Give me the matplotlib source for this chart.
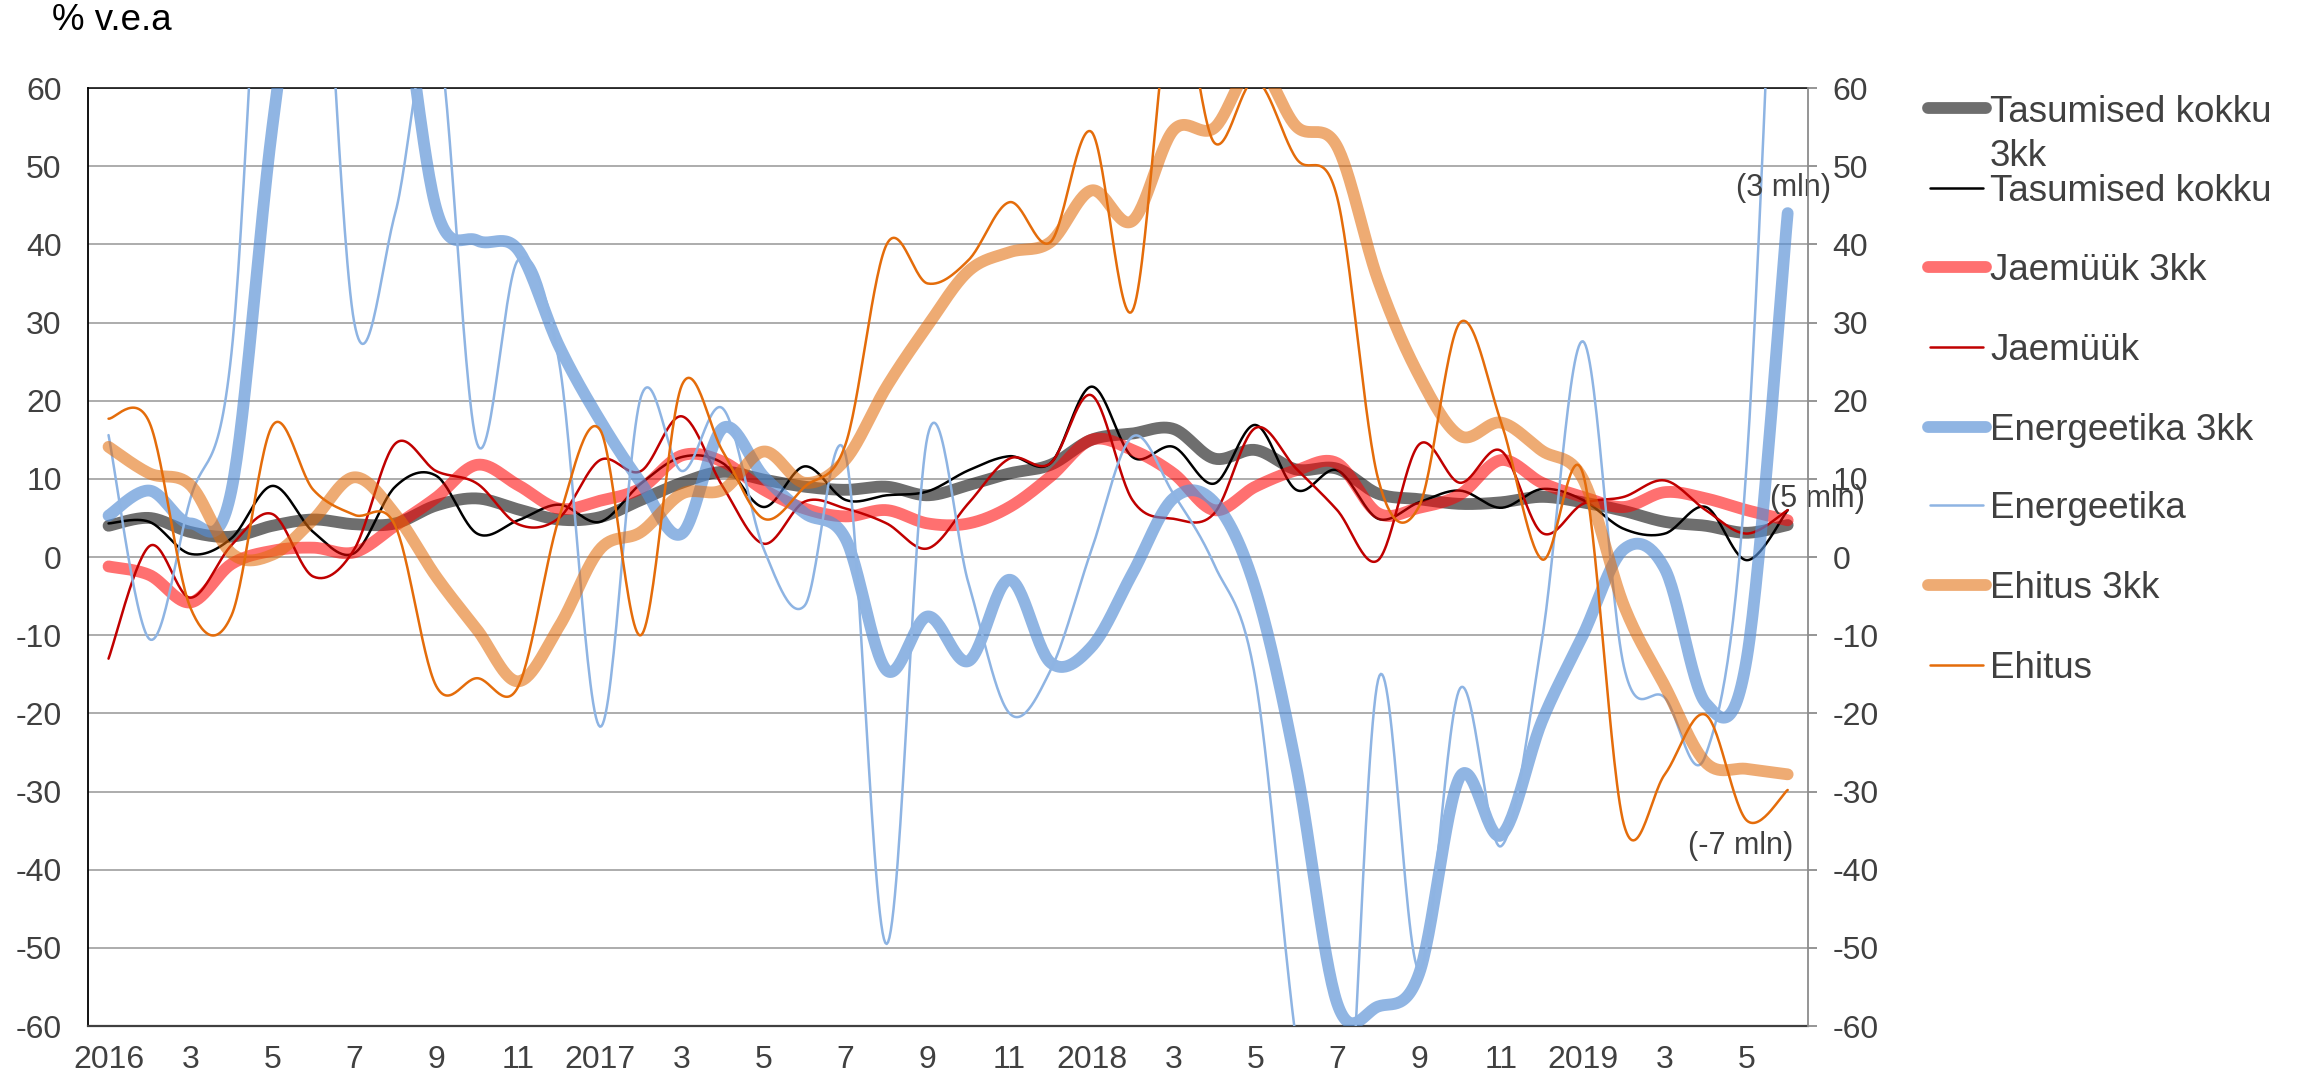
import numpy as np
import matplotlib
matplotlib.use('Agg')
import matplotlib.pyplot as plt
from matplotlib.lines import Line2D

plt.rcParams['font.family'] = ['Liberation Sans', 'DejaVu Sans']
plt.rcParams['axes.unicode_minus'] = False

# monthly data, Jan 2016 .. Jun 2019 (% v.e.a)
x_labels = ['2016', '3', '5', '7', '9', '11', '2017', '3', '5', '7', '9', '11',
            '2018', '3', '5', '7', '9', '11', '2019', '3', '5']

tasumised_3kk = [4.0, 5.0, 3.2, 2.6, 4.0, 4.8, 4.2, 4.3, 6.6, 7.5, 6.1, 4.8, 5.1, 7.3,
                 9.5, 10.9, 9.9, 9.0, 8.6, 9.0, 7.9, 9.2, 10.7, 11.8, 15.0, 15.8, 16.4,
                 12.6, 13.7, 11.2, 11.3, 8.1, 7.4, 6.8, 7.0, 7.7, 7.0, 5.9, 4.5, 4.0, 3.1, 4.1]
tasumised = [4.3, 4.5, 0.4, 2.4, 9.1, 3.2, 0.5, 9.0, 10.4, 3.0, 4.7, 6.7, 4.5, 9.4,
             12.8, 12.0, 6.4, 11.6, 7.3, 7.9, 8.4, 11.1, 12.9, 12.0, 21.8, 12.8, 14.1,
             9.4, 16.9, 8.6, 11.1, 4.9, 7.0, 8.5, 6.3, 8.7, 7.3, 3.6, 3.0, 6.4, -0.4, 6.0]
jaemyyk_3kk = [-1.2, -2.3, -5.8, -0.9, 0.8, 1.2, 0.6, 4.0, 7.6, 11.8, 9.2, 6.2, 7.2, 8.8,
               13.0, 12.2, 8.6, 6.2, 5.2, 6.0, 4.3, 4.3, 6.4, 10.3, 15.0, 13.7, 10.7,
               6.0, 9.0, 11.1, 12.0, 5.6, 6.3, 8.0, 12.4, 9.5, 7.7, 6.4, 8.3, 7.5, 6.0, 4.7]
jaemyyk = [-13.0, 1.4, -5.2, 1.5, 5.5, -2.5, 1.0, 14.5, 11.0, 9.4, 4.2, 5.0, 12.4, 11.0,
           18.0, 9.0, 1.7, 7.1, 6.2, 4.3, 1.1, 6.9, 12.6, 12.0, 20.7, 7.3, 4.9, 5.6,
           16.5, 11.3, 6.0, -0.4, 14.4, 9.5, 13.6, 3.1, 6.8, 7.7, 9.8, 6.0, 3.0, 6.0]
energeetika_3kk = [5.3, 8.5, 4.3, 8.5, 55.0, 90.0, 95.0, 78.0, 44.6, 40.5, 39.3, 27.0, 17.5,
                   9.5, 3.0, 16.5, 10.3, 5.6, 2.3, -14.5, -7.6, -13.3, -2.9, -13.5, -11.5,
                   -2.1, 7.5, 7.0, -4.0, -26.8, -57.1, -57.5, -53.3, -28.1, -35.6, -21.0,
                   -10.0, 1.0, -1.5, -18.7, -13.0, 44.0]
energeetika = [15.6, -10.5, 7.5, 26.0, 105.0, 100.0, 30.0, 44.0, 68.0, 14.5, 38.0, 25.0,
               -21.7, 20.5, 11.0, 19.0, 1.0, -6.2, 13.0, -49.5, 15.5, -3.4, -20.0, -14.5,
               0.9, 15.4, 8.1, -1.0, -15.5, -62.0, -95.0, -15.7, -52.8, -16.8, -37.0,
               -10.6, 27.6, -14.0, -18.0, -25.3, 12.0, 130.0]
ehitus_3kk = [14.1, 10.7, 9.2, 0.5, 0.3, 4.8, 10.2, 5.5, -2.5, -9.3, -15.9, -8.9, 1.0, 3.2,
              8.1, 8.6, 13.5, 9.5, 12.5, 21.8, 29.6, 36.6, 39.0, 40.3, 46.9, 43.0, 54.6,
              54.9, 63.0, 55.1, 52.5, 35.4, 23.2, 15.5, 17.2, 13.6, 10.0, -6.2, -16.5,
              -26.3, -27.1, -27.8]
ehitus = [17.7, 17.2, -6.5, -7.5, 16.8, 8.6, 5.4, 4.0, -16.5, -15.5, -16.6, 5.0, 16.3,
          -10.0, 22.0, 13.5, 4.9, 9.0, 14.5, 40.0, 35.0, 38.0, 45.4, 40.3, 54.4, 31.5,
          72.0, 53.0, 61.0, 51.0, 46.0, 10.0, 6.5, 30.0, 17.3, -0.3, 10.7, -34.2, -27.8,
          -20.2, -33.7, -29.8]


def smooth(values, n=30):
    # Excel-style smoothed line (Bezier through the points, Catmull-Rom tangents)
    y = np.asarray(values, dtype=float)
    x = np.arange(len(y), dtype=float)
    t = np.linspace(0, 1, n, endpoint=False)[:, None]
    out = []
    for arr in (x, y):
        p = np.concatenate([[arr[0]], arr, [arr[-1]]])
        p0, p1, p2, p3 = p[:-3], p[1:-2], p[2:-1], p[3:]
        c1 = p1 + (p2 - p0) / 6
        c2 = p2 - (p3 - p1) / 6
        seg = (1 - t) ** 3 * p1 + 3 * (1 - t) ** 2 * t * c1 + 3 * (1 - t) * t ** 2 * c2 + t ** 3 * p2
        out.append(np.append(seg.T.ravel(), arr[-1]))
    return out


series = [
    ('Tasumised kokku\n3kk', tasumised_3kk, '#000000', 0.57, 8.5),
    ('Tasumised kokku', tasumised, '#000000', 1.0, 1.8),
    ('Jaemüük 3kk', jaemyyk_3kk, '#ff0000', 0.56, 8.5),
    ('Jaemüük', jaemyyk, '#c00000', 1.0, 1.8),
    ('Energeetika 3kk', energeetika_3kk, '#558ed5', 0.65, 8.5),
    ('Energeetika', energeetika, '#8eb4e3', 1.0, 1.8),
    ('Ehitus 3kk', ehitus_3kk, '#e26b0a', 0.57, 8.5),
    ('Ehitus', ehitus, '#e46c0a', 1.0, 1.8),
]

fig = plt.figure(figsize=(22.99, 10.83), dpi=100)
ax = fig.add_axes([0.0383, 0.0526, 0.7482, 0.8661])

for z, (name, vals, color, alpha, lw) in enumerate(series):
    xs, ys = smooth(vals)
    ax.plot(xs, ys, color=color, alpha=alpha, lw=lw, solid_capstyle='round',
            solid_joinstyle='round', zorder=3 + z)

ax.set_xlim(-0.5, len(tasumised) - 0.5)
ax.set_ylim(-60, 60)
ax.set_yticks(range(-60, 61, 10))
ax.set_xticks(range(0, len(tasumised), 2))
ax.set_xticklabels(x_labels)
ax.grid(axis='y', color='#a6a6a6', lw=1.3)
ax.set_axisbelow(True)
ax.tick_params(axis='x', length=0, pad=14, labelsize=23, labelcolor='#404040')
ax.tick_params(axis='y', length=0, pad=19, labelsize=23, labelcolor='#404040')
for side, c, w in (('left', '#000000', 1.3), ('bottom', '#404040', 1.6), ('top', '#000000', 1.1)):
    ax.spines[side].set_color(c)
    ax.spines[side].set_linewidth(w)
ax.spines['right'].set_visible(False)

ax2 = ax.twinx()
ax2.set_ylim(-60, 60)
ax2.set_yticks(range(-60, 61, 10))
ax2.tick_params(axis='y', length=6.5, width=1.3, color='#8c8c8c', pad=11,
                labelsize=23, labelcolor='#404040')
for side in ('left', 'top', 'bottom'):
    ax2.spines[side].set_visible(False)
ax2.spines['right'].set_color('#8c8c8c')
ax2.spines['right'].set_linewidth(1.3)

# labels on the last points
ax.text(40.9, 47.2, '(3 mln)', fontsize=22, color='#404040', ha='center', va='center', zorder=20)
ax.text(41.72, 7.4, '(5 mln)', fontsize=22, color='#404040', ha='center', va='center',
        zorder=20, clip_on=False)
ax.text(39.84, -37.0, '(-7 mln)', fontsize=22, color='#404040', ha='center', va='center', zorder=20)

fig.text(52 / 2299, 1 - 21 / 1083, '% v.e.a', fontsize=26.5, color='black', va='center')

# legend
W, H = 2299, 1083
leg_y = [108, 187.5, 266.7, 346.7, 427, 505, 585, 664.6]
for (name, vals, color, alpha, lw), yy in zip(series, leg_y):
    if lw > 4:
        x0, x1 = 1928, 1986
    else:
        x0, x1 = 1930, 1983
    fig.add_artist(Line2D([x0 / W, x1 / W], [1 - yy / H, 1 - yy / H], color=color,
                          alpha=alpha, lw=lw, solid_capstyle='round'))
    for k, line in enumerate(name.split('\n')):
        fig.text(1990 / W, 1 - (yy + 44 * k) / H, line, fontsize=26.5, color='#404040',
                 va='center_baseline', ha='left')

fig.savefig('out.png', dpi=100)
